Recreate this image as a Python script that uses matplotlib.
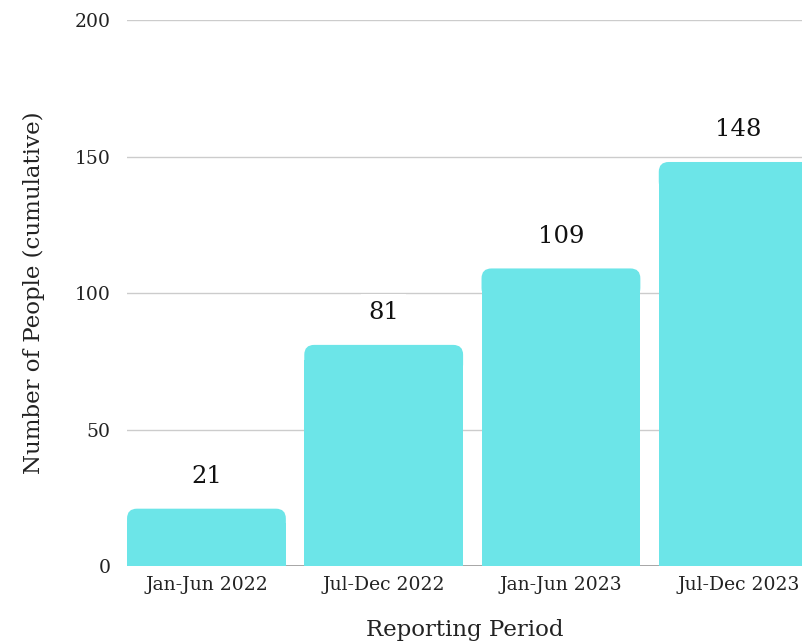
import matplotlib
matplotlib.use("Agg")
import matplotlib.pyplot as plt
from matplotlib.patches import FancyBboxPatch, Rectangle

# Data
periods = ['Jan-Jun 2022', 'Jul-Dec 2022', 'Jan-Jun 2023', 'Jul-Dec 2023']
people = [21, 81, 109, 148]

bar_color = '#6ce5e8'
plt.rcParams['font.family'] = ['DejaVu Serif']

fig = plt.figure(figsize=(8.02, 6.44), dpi=100)
ax = fig.add_axes([0.1584, 0.1211, 0.8416, 0.8478])

x = list(range(len(periods)))
bars = ax.bar(x, people, width=0.896, color='none', edgecolor='none')

ax.set_xlim(-0.448, 3.36)
ax.set_ylim(0, 200)

# rounded top corners (about 10px radius)
rx = 0.056
ry = 3.6
for b in bars:
    bx, bw, bh = b.get_x(), b.get_width(), b.get_height()
    ax.add_patch(FancyBboxPatch((bx, bh - 3 * ry), bw, 3 * ry,
                                boxstyle='round,pad=0,rounding_size=%f' % rx,
                                mutation_aspect=ry / rx,
                                facecolor=bar_color, edgecolor='none',
                                zorder=2))
    ax.add_patch(Rectangle((bx, 0), bw, bh - 1.5 * ry, facecolor=bar_color,
                           edgecolor='none', zorder=2))

for b, v in zip(bars, people):
    ax.annotate(str(v), (b.get_x() + b.get_width() / 2, v),
                xytext=(0, 15), textcoords='offset points',
                ha='center', va='bottom', fontsize=17.5, color='#111111',
                bbox=dict(boxstyle='square,pad=0.3', fc='white', ec='none'),
                zorder=4)

ax.set_yticks([0, 50, 100, 150, 200])
ax.grid(axis='y', color='#cccccc', linewidth=1)
ax.set_axisbelow(True)
ax.axhline(0, color='#999999', linewidth=1.2, zorder=1)
for s in ax.spines.values():
    s.set_visible(False)
ax.tick_params(axis='both', length=0, labelsize=13.5, colors='#222222')
ax.tick_params(axis='y', pad=12)
ax.tick_params(axis='x', pad=7)
ax.set_xticks(x)
ax.set_xticklabels(periods)

ax.set_xlabel('Reporting Period', fontsize=16.5, color='#222222', labelpad=18)
ax.set_ylabel('Number of People (cumulative)', fontsize=16.5, color='#222222',
              labelpad=21)

fig.savefig('out.png', dpi=100)
